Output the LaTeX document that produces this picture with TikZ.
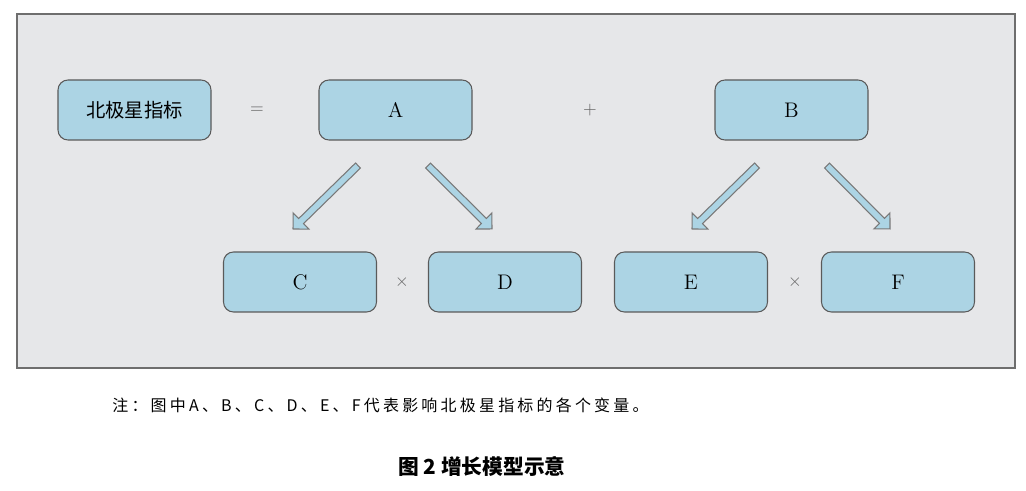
\documentclass[tikz,border=0pt]{standalone}
\usepackage{fontspec}
\usetikzlibrary{calc}
\newfontfamily\cjk{Noto Sans CJK SC}
\newfontfamily\cjknote{Noto Sans CJK SC}[LetterSpace=20]
\definecolor{panelfill}{RGB}{230,231,233}
\definecolor{panelline}{RGB}{110,110,110}
\definecolor{nodefill}{RGB}{172,212,228}
\definecolor{nodeline}{RGB}{90,90,90}
\definecolor{arrline}{RGB}{120,120,120}
\definecolor{opgray}{RGB}{100,100,100}
\begin{document}
\begin{tikzpicture}[font=\fontsize{12}{14}\selectfont]
    \tikzset{
      box/.style={rounded corners=0.2cm,draw=nodeline,fill=nodefill,line width=0.6pt,
                  minimum width=3.06cm,minimum height=1.2cm,inner sep=2pt},
      op/.style={text=opgray,inner sep=1pt,font=\normalsize},
      blk/.style={draw=arrline,fill=nodefill,line width=0.6pt,line join=miter,
        to path={let \p1=($(\tikztotarget)-(\tikztostart)$),
                     \n1={atan2(\y1,\x1)}, \n2={veclen(\x1,\y1)-6.4pt} in
          ($(\tikztostart)+(\n1+90:2pt)$)
          -- ($(\tikztostart)+(\n1:\n2)+(\n1+90:2pt)$)
          -- ($(\tikztostart)+(\n1:\n2)+(\n1+90:6.4pt)$)
          -- (\tikztotarget)
          -- ($(\tikztostart)+(\n1:\n2)+(\n1-90:6.4pt)$)
          -- ($(\tikztostart)+(\n1:\n2)+(\n1-90:2pt)$)
          -- ($(\tikztostart)+(\n1-90:2pt)$) -- cycle}}}
    \useasboundingbox (0,0) rectangle (20.52,-9.82);
    \draw[draw=panelline,fill=panelfill,line width=0.7pt] (0.34,-0.28) rectangle (20.30,-7.36);
    % top row
    \node[box] (goal) at (2.69,-2.2)  {\cjk\fontsize{11}{13}\selectfont 北极星指标};
    \node[op]  (eq)   at (5.14,-2.2)  {$=$};
    \node[box] (A)    at (7.91,-2.2)  {A};
    \node[op]  (plus) at (11.80,-2.2) {$+$};
    \node[box] (B)    at (15.83,-2.2) {B};
    % bottom row
    \node[box] (C)    at (6.00,-5.64)  {C};
    \node[op]  (x1)   at (8.04,-5.64)  {$\times$};
    \node[box] (D)    at (10.10,-5.64) {D};
    \node[box] (E)    at (13.82,-5.64) {E};
    \node[op]  (x2)   at (15.90,-5.64) {$\times$};
    \node[box] (F)    at (17.96,-5.64) {F};
    \foreach \s/\t/\sx/\tx in {A/C/-0.75/-0.14,A/D/0.65/-0.26,B/E/-0.69/0.02,B/F/0.71/-0.16}
      \draw[blk] ($(\s.south)+(\sx,-0.5)$) to ($(\t.north)+(\tx,0.45)$);
    % note and caption
    \node[anchor=west,inner sep=0pt] (note) at (2.24,-8.10)
      {\cjknote\fontsize{9.1}{11}\selectfont 注：图中A、B、C、D、E、F代表影响北极星指标的各个变量。};
    \node[inner sep=0pt] (cap) at (9.64,-9.32)
      {\cjk\bfseries\fontsize{11.8}{13}\selectfont 图\ 2\ 增长模型示意};
\end{tikzpicture}
\end{document}
